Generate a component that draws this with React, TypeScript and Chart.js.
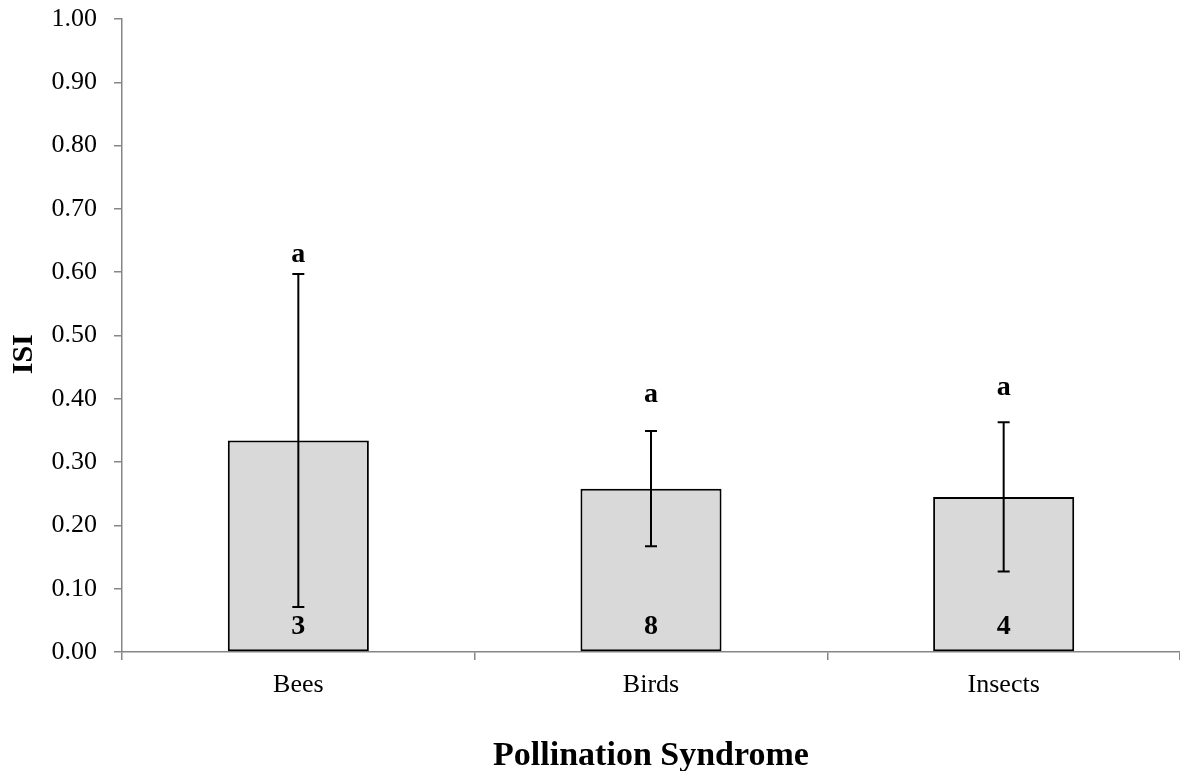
import React, { useEffect, useRef } from "react";
import { Chart, registerables } from "chart.js";

Chart.register(...registerables);

const categories = ["Bees", "Birds", "Insects"];
const means = [0.334, 0.258, 0.245];
const errors = [0.263, 0.091, 0.118];
const sampleSizes = ["3", "8", "4"];
const letters = ["a", "a", "a"];
const letterPositions = [0.627, 0.406, 0.417];
const yTicks = [0, 0.1, 0.2, 0.3, 0.4, 0.5, 0.6, 0.7, 0.8, 0.9, 1.0];

const SERIF = "'Liberation Serif', 'Times New Roman', serif";
const AXIS_GRAY = "#868686";

const annotationPlugin = {
  id: "errorBarsAndLabels",
  afterDatasetsDraw(chart: any) {
    const { ctx } = chart;
    const meta = chart.getDatasetMeta(0);
    const y = chart.scales.y;
    ctx.save();
    meta.data.forEach((bar: any, i: number) => {
      const x = bar.x;
      const top = y.getPixelForValue(means[i] + errors[i]);
      const bot = y.getPixelForValue(means[i] - errors[i]);
      ctx.strokeStyle = "#000";
      ctx.lineWidth = 2;
      ctx.beginPath();
      ctx.moveTo(x, top);
      ctx.lineTo(x, bot);
      ctx.moveTo(x - 6, top);
      ctx.lineTo(x + 6, top);
      ctx.moveTo(x - 6, bot);
      ctx.lineTo(x + 6, bot);
      ctx.stroke();

      ctx.fillStyle = "#000";
      ctx.textAlign = "center";
      ctx.textBaseline = "middle";
      ctx.font = `bold 28px ${SERIF}`;
      ctx.fillText(letters[i], x, y.getPixelForValue(letterPositions[i]));
      ctx.fillText(sampleSizes[i], x, y.getPixelForValue(0) - 25);
    });
    ctx.restore();
  },
};

export default function App() {
  const canvasRef = useRef<HTMLCanvasElement | null>(null);

  useEffect(() => {
    if (!canvasRef.current) return;
    const chart = new Chart(canvasRef.current, {
      type: "bar",
      data: {
        labels: categories,
        datasets: [
          {
            data: means,
            backgroundColor: "#d9d9d9",
            borderColor: "#000",
            borderWidth: 2,
            borderSkipped: false,
            categoryPercentage: 1,
            barPercentage: 0.4,
          },
        ],
      },
      options: {
        responsive: false,
        animation: false,
        layout: { padding: { top: 19, right: 0, left: 0, bottom: 0 } },
        plugins: {
          legend: { display: false },
          tooltip: { enabled: false },
        },
        scales: {
          x: {
            offset: true,
            afterFit: (axis: any) => {
              axis.height = 119;
            },
            grid: {
              offset: true,
              drawOnChartArea: false,
              drawTicks: true,
              tickLength: 8,
              color: AXIS_GRAY,
              lineWidth: 1.5,
            },
            border: { color: AXIS_GRAY, width: 1.5 },
            ticks: {
              color: "#000",
              font: { family: SERIF, size: 26 },
              padding: 10,
            },
            title: {
              display: true,
              text: "Pollination Syndrome",
              color: "#000",
              font: { family: SERIF, size: 34, weight: "bold", lineHeight: 0.85 },
              padding: { top: 24, bottom: 0 },
            },
          },
          y: {
            min: 0,
            max: 1,
            afterFit: (axis: any) => {
              axis.width = 122;
              axis.paddingTop = 0;
              axis.paddingBottom = 0;
            },
            afterBuildTicks: (axis: any) => {
              axis.ticks = yTicks.map((v) => ({ value: v }));
            },
            grid: {
              drawOnChartArea: false,
              drawTicks: true,
              tickLength: 8,
              color: AXIS_GRAY,
              lineWidth: 1.5,
            },
            border: { color: AXIS_GRAY, width: 1.5 },
            ticks: {
              color: "#000",
              font: { family: SERIF, size: 26 },
              padding: 17,
              callback: (v: any) => Number(v).toFixed(2),
            },
            title: {
              display: true,
              text: "ISI     ",
              color: "#000",
              font: { family: SERIF, size: 30, weight: "bold" },
              padding: { top: 6, bottom: 6 },
            },
          },
        },
      },
      plugins: [annotationPlugin],
    });
    return () => chart.destroy();
  }, []);

  return (
    <div style={{ position: "fixed", left: 0, top: 0, width: 1180, height: 771, background: "#fff" }}>
      <canvas ref={canvasRef} width={1180} height={771} style={{ display: "block" }} />
    </div>
  );
}
